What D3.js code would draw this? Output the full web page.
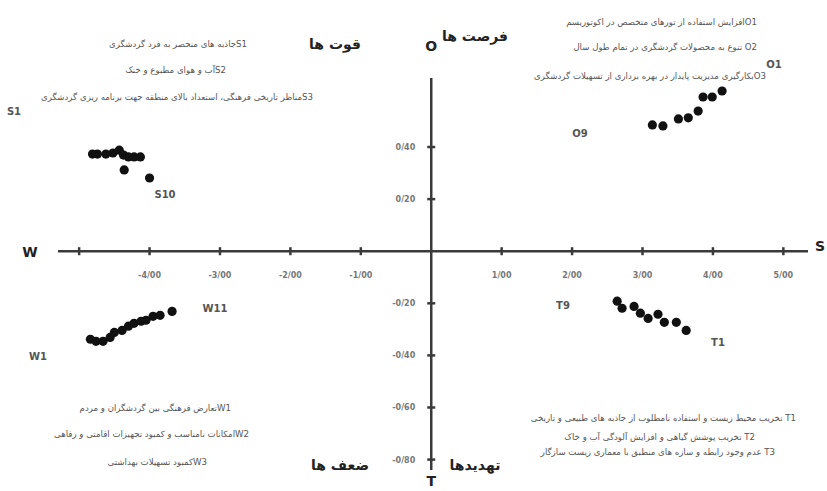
<!DOCTYPE html>
<meta charset="utf-8">
<script src="https://d3js.org/d3.v7.min.js"></script>
<style>
  body { margin: 0; background: #fff; }
  text { font-family: "DejaVu Sans", sans-serif; }
</style>
<body>
<div id="chart"></div>
<script>

// --- data ---
var sX = [-4.81, -4.74, -4.62, -4.52, -4.43, -4.37, -4.30, -4.22, -4.13, -4.36, -4.00];
var sY = [0.373, 0.373, 0.373, 0.377, 0.388, 0.369, 0.362, 0.362, 0.362, 0.312, 0.281];
var oX = [3.14, 3.29, 3.51, 3.65, 3.79, 3.86, 3.99, 4.13];
var oY = [0.485, 0.481, 0.508, 0.512, 0.538, 0.592, 0.592, 0.615];
var wX = [-4.84, -4.76, -4.66, -4.56, -4.50, -4.39, -4.30, -4.22, -4.12, -4.05, -3.95, -3.85, -3.68];
var wY = [-0.338, -0.346, -0.346, -0.331, -0.312, -0.304, -0.288, -0.277, -0.269, -0.265, -0.250, -0.246, -0.231];
var tX = [2.64, 2.71, 2.88, 2.97, 3.08, 3.22, 3.31, 3.48, 3.62];
var tY = [-0.192, -0.219, -0.212, -0.238, -0.258, -0.242, -0.273, -0.273, -0.304];

var xTicks = [-5, -4, -3, -2, -1, 1, 2, 3, 4, 5];
var xTickLabels = [-4, -3, -2, -1, 1, 2, 3, 4, 5];
var yTicks = [0.4, 0.2, -0.2, -0.4, -0.6, -0.8];

var sNotes = ["S1جاذبه های منحصر به فرد گردشگری",
              "S2آب و هوای مطبوع و خنک",
              "S3مناظر تاریخی فرهنگی، استعداد بالای منطقه جهت برنامه ریزی گردشگری"];
var oNotes = ["O1افزایش استفاده از تورهای متخصص در اکوتوریسم",
              "O2 تنوع به محصولات گردشگری در تمام طول سال",
              "O3بکارگیری مدیریت پایدار در بهره برداری از تسهیلات گردشگری"];
var wNotes = ["W1تعارض فرهنگی بین گردشگران و مردم",
              "W2امکانات نامناسب و کمبود تجهیزات اقامتی و رفاهی",
              "W3کمبود تسهیلات بهداشتی"];
var tNotes = ["T1 تخریب محیط زیست و استفاده نامطلوب از جاذبه های طبیعی و تاریخی",
              "T2 تخریب پوشش گیاهی و افزایش آلودگی آب و خاک",
              "T3 عدم وجود رابطه و سازه های منطبق با معماری زیست سازگار"];

var width = 827, height = 491;

var svg = d3.select("#chart").append("svg")
    .attr("width", width)
    .attr("height", height);

// scales
var x = d3.scaleLinear().domain([-5.3, 5.35]).range([58, 808]);
var y = d3.scaleLinear().domain([-0.84, 0.665]).range([470, 78]);

var fmt = function(d) { return d3.format(".2f")(d).replace(".", "/").replace("\u2212", "-"); };
var axisColor = "#3a3a3a";

// horizontal axis
var gx = svg.append("g").attr("transform", "translate(0," + y(0) + ")");
gx.append("line")
    .attr("x1", x.range()[0]).attr("x2", x.range()[1])
    .attr("stroke", axisColor).attr("stroke-width", 2.5);
gx.selectAll(".tk").data(xTicks).enter().append("line")
    .attr("x1", function(d) { return x(d); }).attr("x2", function(d) { return x(d); })
    .attr("y1", -4).attr("y2", 4)
    .attr("stroke", axisColor).attr("stroke-width", 2.5);
gx.selectAll(".lb").data(xTickLabels).enter().append("text")
    .attr("x", function(d) { return x(d); })
    .attr("y", 27)
    .attr("text-anchor", "middle")
    .attr("font-size", 8)
    .attr("font-weight", "bold")
    .attr("fill", "#777")
    .text(fmt);

// vertical axis
var gy = svg.append("g").attr("transform", "translate(" + x(0) + ",0)");
gy.append("line")
    .attr("y1", y.range()[0]).attr("y2", y.range()[1])
    .attr("stroke", axisColor).attr("stroke-width", 2.5);
gy.selectAll(".tk").data(yTicks).enter().append("line")
    .attr("y1", function(d) { return y(d); }).attr("y2", function(d) { return y(d); })
    .attr("x1", -4).attr("x2", 4)
    .attr("stroke", axisColor).attr("stroke-width", 2.5);
gy.selectAll(".lb").data(yTicks).enter().append("text")
    .attr("x", -16)
    .attr("y", function(d) { return y(d) + 3; })
    .attr("text-anchor", "end")
    .attr("font-size", 8)
    .attr("font-weight", "bold")
    .attr("fill", "#777")
    .text(fmt);

// axis end letters
var letters = [["W", 30, 257], ["S", 820, 251], ["O", x(0), 51], ["T", x(0), 486]];
svg.selectAll(".letter").data(letters).enter().append("text")
    .attr("x", function(d) { return d[1]; })
    .attr("y", function(d) { return d[2]; })
    .attr("text-anchor", "middle")
    .attr("font-size", 14)
    .attr("font-weight", "bold")
    .attr("fill", "#222")
    .text(function(d) { return d[0]; });

// points
var groups = [[sX, sY], [oX, oY], [wX, wY], [tX, tY]];
groups.forEach(function(g) {
  svg.append("g").selectAll("circle")
    .data(d3.range(g[0].length))
    .enter().append("circle")
      .attr("cx", function(i) { return x(g[0][i]); })
      .attr("cy", function(i) { return y(g[1][i]); })
      .attr("r", 4.6)
      .attr("fill", "#111");
});

// point labels
var ptLabels = [["S1", 14, 115], ["S10", 165, 198], ["O9", 580, 137], ["O1", 774, 68],
                ["W1", 38, 360], ["W11", 215, 312], ["T9", 563, 309], ["T1", 718, 346]];
svg.selectAll(".pl").data(ptLabels).enter().append("text")
    .attr("x", function(d) { return d[1]; })
    .attr("y", function(d) { return d[2]; })
    .attr("text-anchor", "middle")
    .attr("font-size", 10)
    .attr("font-weight", "bold")
    .attr("fill", "#555")
    .text(function(d) { return d[0]; });

// quadrant titles
var titles = [["قوت ها", 335, 49], ["فرصت ها", 475, 41], ["ضعف ها", 340, 470], ["تهدیدها", 475, 470]];
svg.selectAll(".qt").data(titles).enter().append("text")
    .attr("x", function(d) { return d[1]; })
    .attr("y", function(d) { return d[2]; })
    .attr("text-anchor", "middle")
    .attr("font-size", 14)
    .attr("font-weight", "bold")
    .attr("fill", "#222")
    .text(function(d) { return d[0]; });

// notes (right-to-left, anchored at right edge)
function notes(list, rights, ys) {
  svg.append("g").selectAll("text").data(list).enter().append("text")
    .attr("x", function(d, i) { return rights[i]; })
    .attr("y", function(d, i) { return ys[i]; })
    .attr("direction", "rtl")
    .attr("text-anchor", "start")
    .attr("font-size", 8.6)
    .attr("fill", "#555")
    .text(function(d) { return d; });
}
notes(sNotes, [247, 226, 313], [47, 73, 100]);
notes(oNotes, [757, 757, 766], [25, 50, 79]);
notes(wNotes, [231, 249, 207], [411, 437, 465]);
notes(tNotes, [796, 755, 775], [421, 440, 455]);

</script>
</body>
